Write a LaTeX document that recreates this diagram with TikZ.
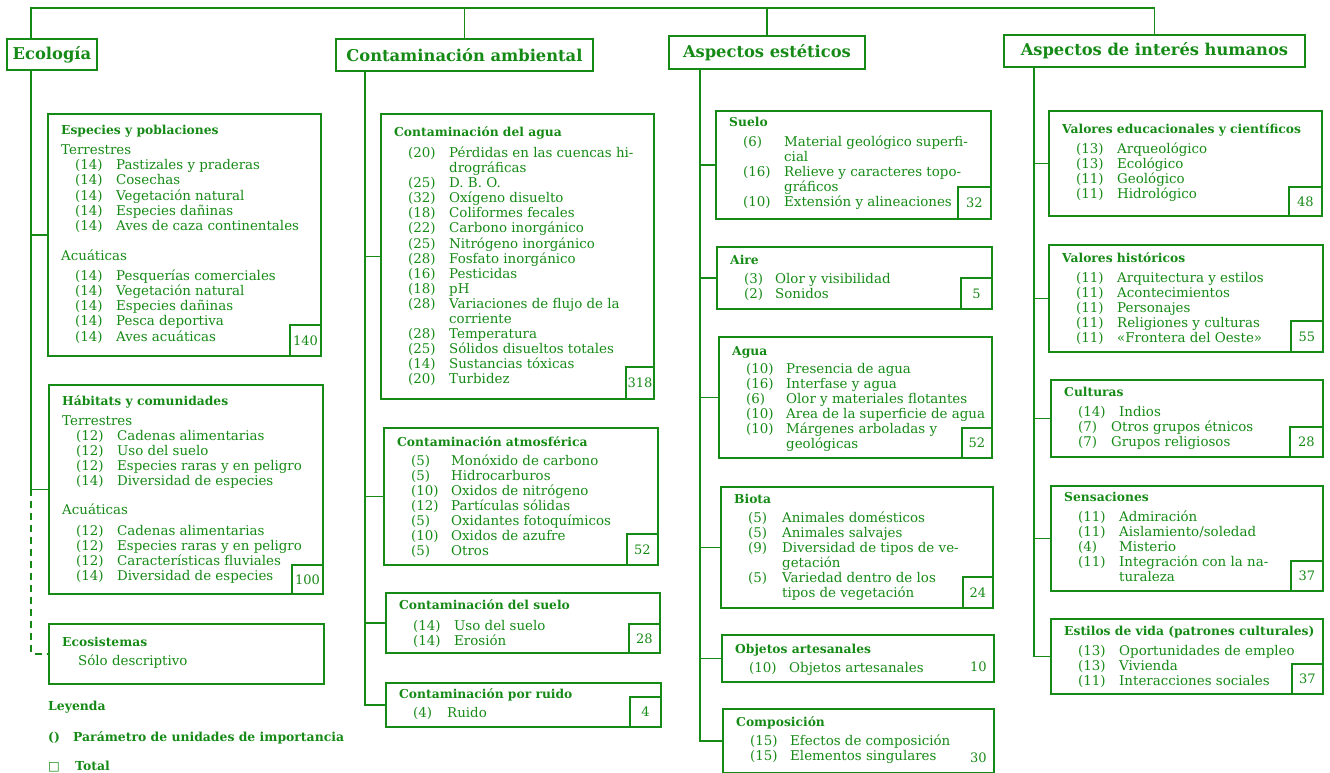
\documentclass[tikz,border=0pt]{standalone}
\usepackage{fontspec}
\setmainfont{DejaVu Serif}
\newfontfamily\symfont{DejaVu Sans}
\usetikzlibrary{positioning}
\definecolor{ink}{RGB}{22,138,22}
\newlength\numw
\newlength\numind
\setlength\numind{14pt}
\newcommand{\hd}[1]{{\fontsize{12.3}{15}\selectfont\bfseries #1}}
\newcommand{\prm}[2]{\hspace*{\numind}\makebox[\numw][l]{(#1)}#2}
\newcommand{\cnt}[1]{\hspace*{\numind}\hspace*{\numw}#1}
\tikzset{
  link/.style={draw=ink, line width=1.9pt},
  topbox/.style={draw=ink, line width=1.9pt, text=ink, anchor=north west, inner sep=0pt, font=\fontsize{16.3}{18}\selectfont\bfseries},
  impbox/.style={draw=ink, line width=1.9pt, anchor=north west, inner sep=0pt},
  boxtext/.style={anchor=base west, inner sep=0pt, text=ink, font=\fontsize{13.4}{15}\selectfont},
  totbox/.style={draw=ink, line width=1.9pt, anchor=south east, inner sep=0pt, text=ink, minimum width=31, minimum height=31, font=\fontsize{13}{14}\selectfont},
  legtext/.style={anchor=west, inner sep=0pt, text=ink, font=\fontsize{12.4}{14}\selectfont\bfseries},
}
% [numw]{name}{x}{y}{w}{h}{baseline}{rows}
\NewDocumentCommand{\impbox}{O{41pt} m m m m m m m}{%
  \node[impbox, minimum width=#5, minimum height=#6] (#2) at (#3,#4) {};
  \node[boxtext] (#2-t) at ([shift={(14,#7)}]#2.north west)
    {\setlength\numw{#1}\begin{tabular}[t]{@{}l@{}}#8\end{tabular}};
}
\begin{document}
\begin{tikzpicture}[x=1pt, y=-1pt]
\useasboundingbox (0,0) rectangle (1330,773);

\node[topbox, minimum width=90, minimum height=31] (eco) at (6,38) {Ecología};
\node[topbox, minimum width=257, minimum height=32] (cont) at (335,38) {Contaminación ambiental};
\node[topbox, minimum width=196, minimum height=33] (est) at (668,35) {Aspectos estéticos};
\node[topbox, minimum width=301, minimum height=32] (hum) at (1003,34) {Aspectos de interés humanos};

% Ecologia
\impbox{esp}{47}{113}{273}{242}{22}{%
  \hd{Especies y poblaciones}\\[5pt]
  Terrestres\\
  \prm{14}{Pastizales y praderas}\\
  \prm{14}{Cosechas}\\
  \prm{14}{Vegetación natural}\\
  \prm{14}{Especies dañinas}\\
  \prm{14}{Aves de caza continentales}\\[15pt]
  Acuáticas\\[5pt]
  \prm{14}{Pesquerías comerciales}\\
  \prm{14}{Vegetación natural}\\
  \prm{14}{Especies dañinas}\\
  \prm{14}{Pesca deportiva}\\
  \prm{14}{Aves acuáticas}}
\impbox{hab}{48}{384}{274}{209}{21}{%
  \hd{Hábitats y comunidades}\\[5pt]
  Terrestres\\
  \prm{12}{Cadenas alimentarias}\\
  \prm{12}{Uso del suelo}\\
  \prm{12}{Especies raras y en peligro}\\
  \prm{14}{Diversidad de especies}\\[14pt]
  Acuáticas\\[6pt]
  \prm{12}{Cadenas alimentarias}\\
  \prm{12}{Especies raras y en peligro}\\
  \prm{12}{Características fluviales}\\
  \prm{14}{Diversidad de especies}}
\impbox{ecs}{48}{623}{275}{60}{23}{%
  \hd{Ecosistemas}\\[4pt]
  \hspace*{16pt}Sólo descriptivo}

% Contaminacion
\impbox{c-agua}{380}{113}{273}{285}{24}{%
  \hd{Contaminación del agua}\\[5pt]
  \prm{20}{Pérdidas en las cuencas hi-}\\
  \cnt{drográficas}\\
  \prm{25}{D. B. O.}\\
  \prm{32}{Oxígeno disuelto}\\
  \prm{18}{Coliformes fecales}\\
  \prm{22}{Carbono inorgánico}\\
  \prm{25}{Nitrógeno inorgánico}\\
  \prm{28}{Fosfato inorgánico}\\
  \prm{16}{Pesticidas}\\
  \prm{18}{pH}\\
  \prm{28}{Variaciones de flujo de la}\\
  \cnt{corriente}\\
  \prm{28}{Temperatura}\\
  \prm{25}{Sólidos disueltos totales}\\
  \prm{14}{Sustancias tóxicas}\\
  \prm{20}{Turbidez}}
\impbox[40pt]{c-atm}{383}{427}{274}{137}{19}{%
  \hd{Contaminación atmosférica}\\[4pt]
  \prm{5}{Monóxido de carbono}\\
  \prm{5}{Hidrocarburos}\\
  \prm{10}{Oxidos de nitrógeno}\\
  \prm{12}{Partículas sólidas}\\
  \prm{5}{Oxidantes fotoquímicos}\\
  \prm{10}{Oxidos de azufre}\\
  \prm{5}{Otros}}
\impbox{c-suelo}{385}{592}{274}{60}{17}{%
  \hd{Contaminación del suelo}\\[6pt]
  \prm{14}{Uso del suelo}\\
  \prm{14}{Erosión}}
\impbox[34pt]{c-ruido}{385}{682}{275}{44}{16}{%
  \hd{Contaminación por ruido}\\[4pt]
  \prm{4}{Ruido}}

% Aspectos esteticos
\impbox{e-suelo}{715}{110}{275}{108}{17}{%
  \hd{Suelo}\\[4pt]
  \prm{6}{Material geológico superfi-}\\
  \cnt{cial}\\
  \prm{16}{Relieve y caracteres topo-}\\
  \cnt{gráficos}\\
  \prm{10}{Extensión y alineaciones}}
\impbox[31pt]{e-aire}{716}{246}{275}{62}{18}{%
  \hd{Aire}\\[4pt]
  \prm{3}{Olor y visibilidad}\\
  \prm{2}{Sonidos}}
\impbox[40pt]{e-agua}{718}{336}{273}{121}{19}{%
  \hd{Agua}\\[3pt]
  \prm{10}{Presencia de agua}\\
  \prm{16}{Interfase y agua}\\
  \prm{6}{Olor y materiales flotantes}\\
  \prm{10}{Area de la superficie de agua}\\
  \prm{10}{Márgenes arboladas y}\\
  \cnt{geológicas}}
\impbox[34pt]{e-biota}{720}{486}{272}{121}{17}{%
  \hd{Biota}\\[4pt]
  \prm{5}{Animales domésticos}\\
  \prm{5}{Animales salvajes}\\
  \prm{9}{Diversidad de tipos de ve-}\\
  \cnt{getación}\\
  \prm{5}{Variedad dentro de los}\\
  \cnt{tipos de vegetación}}
\impbox[40pt]{e-obj}{721}{634}{272}{47}{19}{%
  \hd{Objetos artesanales}\\[4pt]
  \prm{10}{Objetos artesanales}}
\impbox[40pt]{e-comp}{722}{708}{271}{64}{18}{%
  \hd{Composición}\\[4pt]
  \prm{15}{Efectos de composición}\\
  \prm{15}{Elementos singulares}}

% Aspectos de interes humanos
\impbox{h-edu}{1048}{110}{273}{105}{24}{%
  \hd{Valores educacionales y científicos}\\[4pt]
  \prm{13}{Arqueológico}\\
  \prm{13}{Ecológico}\\
  \prm{11}{Geológico}\\
  \prm{11}{Hidrológico}}
\impbox{h-hist}{1048}{244}{274}{107}{18}{%
  \hd{Valores históricos}\\[5pt]
  \prm{11}{Arquitectura y estilos}\\
  \prm{11}{Acontecimientos}\\
  \prm{11}{Personajes}\\
  \prm{11}{Religiones y culturas}\\
  \prm{11}{«Frontera del Oeste»}}
\impbox[33pt]{h-cult}{1050}{379}{272}{77}{17}{%
  \hd{Culturas}\\[5pt]
  \prm{14}{\hspace*{8pt}Indios}\\
  \prm{7}{Otros grupos étnicos}\\
  \prm{7}{Grupos religiosos}}
\impbox{h-sens}{1050}{485}{272}{105}{16}{%
  \hd{Sensaciones}\\[5pt]
  \prm{11}{Admiración}\\
  \prm{11}{Aislamiento/soledad}\\
  \prm{4}{Misterio}\\
  \prm{11}{Integración con la na-}\\
  \cnt{turaleza}}
\impbox{h-vida}{1050}{618}{272}{75}{17}{%
  \hd{Estilos de vida (patrones culturales)}\\[5pt]
  \prm{13}{Oportunidades de empleo}\\
  \prm{13}{Vivienda}\\
  \prm{11}{Interacciones sociales}}

% totales
\node[totbox] (esp-n) at (esp.south east) {140};
\node[totbox, minimum height=29] (hab-n) at (hab.south east) {100};
\node[totbox, minimum width=28, minimum height=32] (c-agua-n) at (c-agua.south east) {318};
\node[totbox] (c-atm-n) at (c-atm.south east) {52};
\node[totbox, minimum height=29] (c-suelo-n) at (c-suelo.south east) {28};
\node[totbox, minimum height=30] (c-ruido-n) at (c-ruido.south east) {4};
\node[totbox, minimum width=33, minimum height=32] (e-suelo-n) at (e-suelo.south east) {32};
\node[totbox] (e-aire-n) at (e-aire.south east) {5};
\node[totbox, minimum width=30, minimum height=30] (e-agua-n) at (e-agua.south east) {52};
\node[totbox, minimum width=30] (e-biota-n) at (e-biota.south east) {24};
\node[totbox, draw=none] (e-obj-n) at (e-obj.south east) {10};
\node[totbox, draw=none] (e-comp-n) at (e-comp.south east) {30};
\node[totbox, minimum width=33, minimum height=29] (h-edu-n) at (h-edu.south east) {48};
\node[totbox, minimum width=32] (h-hist-n) at (h-hist.south east) {55};
\node[totbox, minimum width=33, minimum height=30] (h-cult-n) at (h-cult.south east) {28};
\node[totbox, minimum width=32, minimum height=30] (h-sens-n) at (h-sens.south east) {37};
\node[totbox, minimum height=30] (h-vida-n) at (h-vida.south east) {37};

% conectores
\coordinate (bar) at (0,8);
\draw[link] ([xshift=25pt]eco.north west) |- (bar -| hum.north) -- (hum.north);
\draw[link] (cont.north) -- (cont.north |- bar);
\draw[link] (est.north) -- (est.north |- bar);

\coordinate (eco-tr) at ([xshift=25pt]eco.south west);
\draw[link] (eco-tr) |- (esp.west);
\draw[link] (eco-tr) |- (hab.west);
\draw[link, dash pattern=on 7pt off 5pt] (eco-tr |- hab.west) |- (ecs.west);

\coordinate (cont-tr) at ([xshift=30pt]cont.south west);
\foreach \b in {c-agua,c-atm,c-suelo,c-ruido}
  \draw[link] (cont-tr) |- (\b.west);

\coordinate (est-tr) at ([xshift=32pt]est.south west);
\foreach \b in {e-suelo,e-aire,e-agua,e-biota,e-obj,e-comp}
  \draw[link] (est-tr) |- (\b.west);

\coordinate (hum-tr) at ([xshift=31pt]hum.south west);
\foreach \b in {h-edu,h-hist,h-cult,h-sens,h-vida}
  \draw[link] (hum-tr) |- (\b.west);

% leyenda
\node[legtext] (leg) at (48,707) {Leyenda};
\node[legtext] (leg-par) at (48,738) {\makebox[25pt][l]{()}Parámetro de unidades de importancia};
\node[legtext] (leg-tot) at (48,767) {\makebox[27pt][l]{\symfont\mdseries □}Total};
\end{tikzpicture}
\end{document}
